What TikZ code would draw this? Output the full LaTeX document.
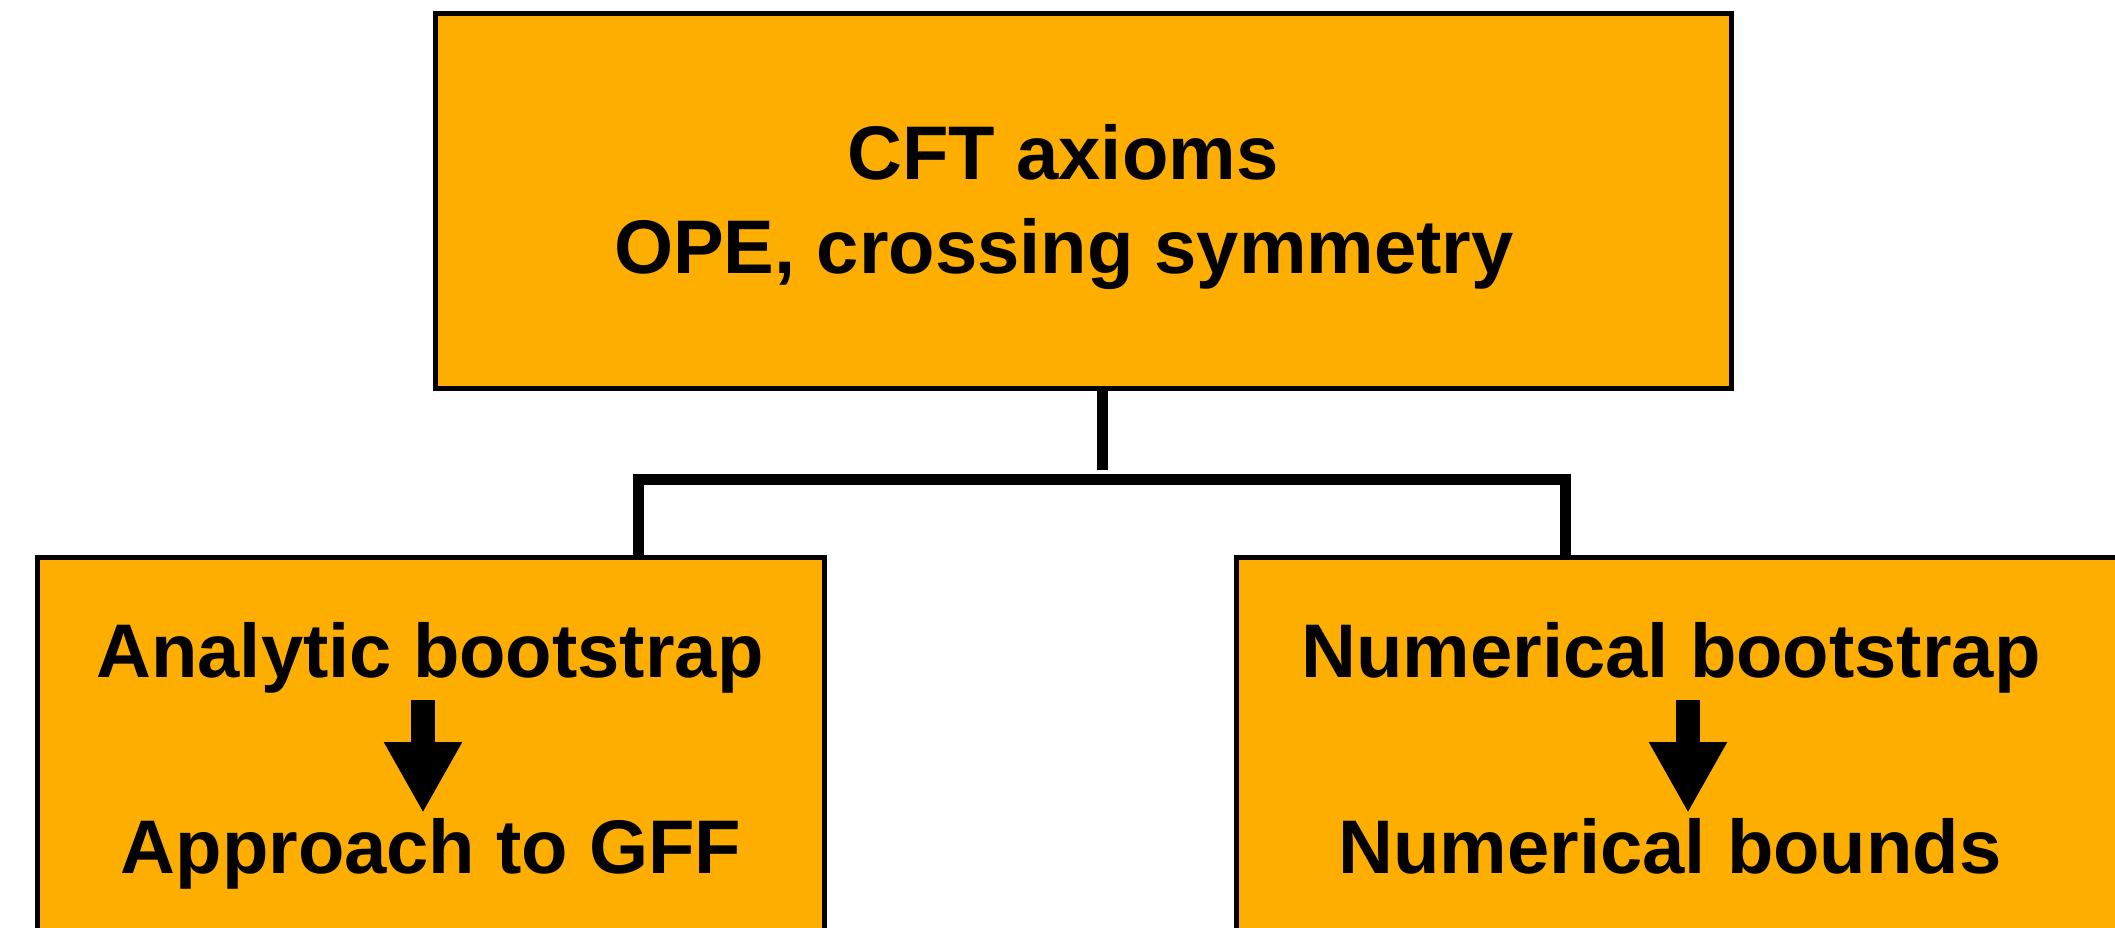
\documentclass[tikz,border=0pt]{standalone}
\usepackage{fontspec}
\setmainfont{Liberation Sans}
\usetikzlibrary{arrows.meta}
\definecolor{boxorange}{RGB}{253,174,0}
\tikzset{
  box/.style={draw=black, fill=boxorange, line width=5pt, rectangle, inner sep=0pt, outer sep=0pt},
  lbl/.style={anchor=base, inner sep=0pt, font=\fontsize{76}{90}\selectfont\bfseries},
  conn/.style={draw=black, line width=11pt, line join=miter},
  blockarrow/.style={draw=black, line width=24pt, -{Triangle[length=71pt,width=73pt]}}
}
\begin{document}
\begin{tikzpicture}[x=1pt,y=-1pt]
\useasboundingbox (0,0) rectangle (2115,928);
\clip (0,0) rectangle (2115,928);
% boxes
\node[box, minimum width=1296pt, minimum height=375pt] (top) at (1083.5,201) {};
\node[box, minimum width=787pt, minimum height=500pt] (left) at (430.5,807) {};
\node[box, minimum width=1000pt, minimum height=500pt] (right) at (1736,807) {};
% texts
\node[lbl] (t1) at (1063,180) {CFT axioms};
\node[lbl] (t2) at (1064,273) {OPE, crossing symmetry};
\node[lbl] (l1) at (430,677) {Analytic bootstrap};
\node[lbl] (l2) at (431,873) {Approach to GFF};
\node[lbl] (r1) at (1671,677) {Numerical bootstrap};
\node[lbl] (r2) at (1670,873) {Numerical bounds};
% connector coordinates
\coordinate (stemEnd) at (1102,470);
\coordinate (barL) at (638,479);
\coordinate (barR) at (1565,479);
\draw[conn] (top.south -| stemEnd) -- (stemEnd);
\draw[conn] (left.north -| barL) -- (barL) -- (barR) -- (right.north -| barR);
% block arrows
\coordinate (la1) at (423,700);
\coordinate (la2) at (423,813);
\coordinate (ra1) at (1688,700);
\coordinate (ra2) at (1688,813);
\draw[blockarrow] (la1) -- (la2);
\draw[blockarrow] (ra1) -- (ra2);
\end{tikzpicture}
\end{document}
